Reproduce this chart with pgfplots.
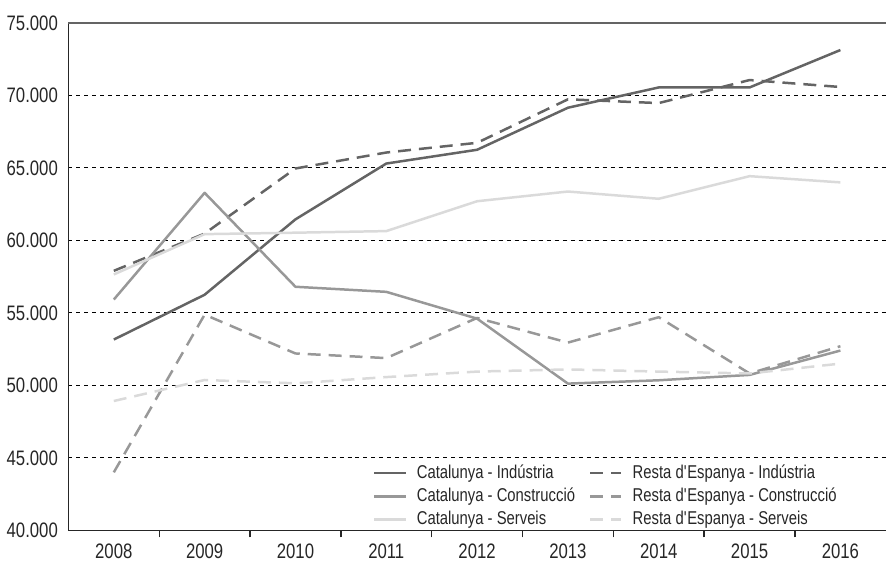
\documentclass[border=0pt]{standalone}
\usepackage{pgfplots}
\pgfplotsset{compat=1.18}
\usepackage{fontspec}
\setmainfont{Liberation Sans}[FakeStretch=0.8]

\definecolor{darkline}{RGB}{100,100,100}
\definecolor{midline}{RGB}{152,152,152}
\definecolor{lightline}{RGB}{218,218,218}

\begin{document}
\begin{tikzpicture}
\begin{axis}[
    scale only axis,
    width=410pt, height=254.5pt,
    xmin=-0.5, xmax=8.5,
    ymin=40000, ymax=75000,
    axis lines=left,
    axis line style={-, black!85, line width=0.8pt},
    xtick={0.5,1.5,...,7.5},
    xticklabels={},
    x tick style={black!85, line width=0.7pt},
    xtick align=outside,
    major tick length=3.5pt,
    extra x ticks={0,...,8},
    extra x tick labels={2008,2009,2010,2011,2012,2013,2014,2015,2016},
    extra x tick style={major tick length=0pt, x tick label style={yshift=-3.5pt}},
    ytick={40000,45000,...,70000},
    extra y ticks={75000},
    extra y tick style={major grid style={solid, darkline, line width=1.2pt}},
    y tick style={draw=none},
    ymajorgrids,
    major grid style={black, line width=0.5pt, dash pattern=on 2pt off 2pt},
    scaled y ticks=false,
    /pgf/number format/.cd, fixed, precision=0, 1000 sep={.}, assume math mode=true,
    /pgfplots/.cd,
    tick label style={font=\fontsize{10.5}{12}\selectfont, text=black!85},
    every axis plot/.append style={line width=1.25pt, line join=round},
    legend style={at={(0.365,0)}, anchor=south west, yshift=-3pt, draw=none, fill=none,
        font=\fontsize{9.3}{11}\selectfont, text=black!85,
        row sep=-0.6pt, column sep=3pt,
        /tikz/every even column/.append style={column sep=5pt}},
    legend columns=2,
    legend cell align=left,
    legend image post style={line width=1.25pt},
    legend image code/.code={\draw[#1] (0cm,0cm) -- (0.55cm,0cm);},
]
\addplot[darkline] coordinates {
    (0,53160) (1,56250) (2,61450) (3,65300) (4,66250) (5,69150) (6,70550) (7,70550) (8,73130)
};
\addlegendentry{Catalunya - Indústria}
\addplot[darkline, dash pattern=on 6.5pt off 4pt] coordinates {
    (0,57900) (1,60470) (2,64960) (3,66060) (4,66730) (5,69730) (6,69470) (7,71060) (8,70580)
};
\addlegendentry{Resta d\textquotesingle Espanya - Indústria}
\addplot[midline] coordinates {
    (0,55920) (1,63280) (2,56800) (3,56450) (4,54600) (5,50120) (6,50350) (7,50720) (8,52400)
};
\addlegendentry{Catalunya - Construcció}
\addplot[midline, dash pattern=on 6.5pt off 4pt] coordinates {
    (0,44000) (1,54880) (2,52200) (3,51880) (4,54650) (5,52950) (6,54700) (7,50820) (8,52700)
};
\addlegendentry{Resta d\textquotesingle Espanya - Construcció}
\addplot[lightline] coordinates {
    (0,57650) (1,60430) (2,60530) (3,60640) (4,62700) (5,63370) (6,62870) (7,64430) (8,64000)
};
\addlegendentry{Catalunya - Serveis}
\addplot[lightline, dash pattern=on 6.5pt off 4pt] coordinates {
    (0,48920) (1,50370) (2,50140) (3,50570) (4,50950) (5,51100) (6,50950) (7,50820) (8,51500)
};
\addlegendentry{Resta d\textquotesingle Espanya - Serveis}
\end{axis}
\path (current axis.south west) ++(-33.5pt,-13pt) (current axis.north east) ++(0pt,11.5pt);
\end{tikzpicture}
\end{document}
